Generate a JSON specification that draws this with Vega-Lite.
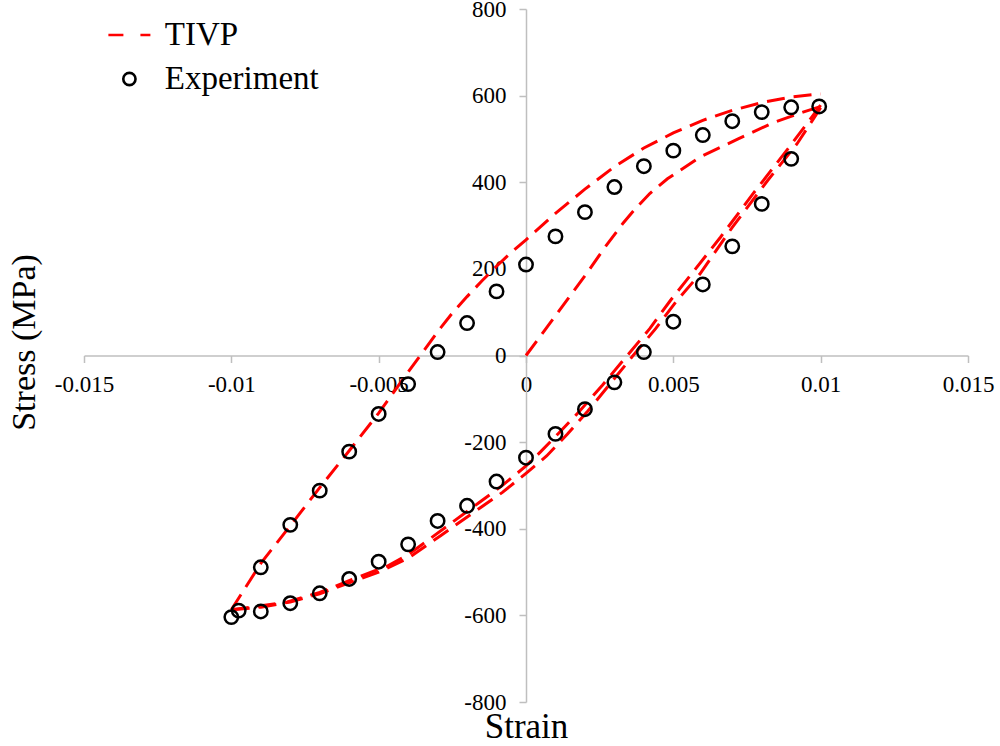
{
  "$schema": "https://vega.github.io/schema/vega-lite/v6.json",
  "width": 884,
  "height": 693,
  "autosize": "none",
  "padding": {"left": 84, "top": 9, "right": 32, "bottom": 44},
  "background": "white",
  "config": {"view": {"stroke": null}, "font": "Liberation Serif", "axis": {"labelFont": "Liberation Serif", "titleFont": "Liberation Serif"}, "legend": {"labelFont": "Liberation Serif"}},
  "encoding": {
    "x": {
      "field": "strain", "type": "quantitative",
      "scale": {"domain": [-0.015, 0.015], "nice": false, "zero": false},
      "axis": {
        "orient": "bottom", "offset": -346.5,
        "values": [-0.015, -0.01, -0.005, 0, 0.005, 0.01, 0.015],
        "labelExpr": "toString(datum.value)",
        "title": "Strain", "titleFont": "Liberation Serif", "titleFontSize": 35, "titleFontWeight": "normal", "titleColor": "black",
        "titleX": 442, "titleY": 382, "titleBaseline": "alphabetic", "titleAlign": "center",
        "labelFont": "Liberation Serif", "labelFontSize": 23, "labelColor": "black", "labelPadding": 11,
        "tickSize": 7, "tickColor": "#bfbfbf", "tickWidth": 1.5, "domainColor": "#bfbfbf", "domainWidth": 1.5,
        "grid": false, "labelFlush": false, "labelOverlap": false
      }
    },
    "y": {
      "field": "stress", "type": "quantitative",
      "scale": {"domain": [-800, 800], "nice": false, "zero": false},
      "axis": {
        "orient": "left", "offset": -442,
        "values": [-800, -600, -400, -200, 0, 200, 400, 600, 800],
        "labelExpr": "toString(datum.value)",
        "title": "Stress (MPa)", "titleFont": "Liberation Serif", "titleFontSize": 34, "titleFontWeight": "normal", "titleColor": "black",
        "titleX": -492, "titleY": 333, "titleAngle": -90, "titleBaseline": "alphabetic", "titleAlign": "center",
        "labelFont": "Liberation Serif", "labelFontSize": 23, "labelColor": "black", "labelPadding": 13,
        "tickSize": 7, "tickColor": "#bfbfbf", "tickWidth": 1.5, "domainColor": "#bfbfbf", "domainWidth": 1.5,
        "grid": false, "labelFlush": false, "labelOverlap": false
      }
    }
  },
  "layer": [
    {
      "data": {"values": [
        {"branch": "A", "order": 1, "strain": 0, "stress": 0},
        {"branch": "A", "order": 2, "strain": 0.001, "stress": 92},
        {"branch": "A", "order": 3, "strain": 0.002, "stress": 184},
        {"branch": "A", "order": 4, "strain": 0.0027, "stress": 252},
        {"branch": "A", "order": 5, "strain": 0.0033, "stress": 306},
        {"branch": "A", "order": 6, "strain": 0.0037, "stress": 338},
        {"branch": "A", "order": 7, "strain": 0.0042, "stress": 374},
        {"branch": "A", "order": 8, "strain": 0.0048, "stress": 408},
        {"branch": "A", "order": 9, "strain": 0.0059, "stress": 458},
        {"branch": "A", "order": 10, "strain": 0.0072, "stress": 500},
        {"branch": "A", "order": 11, "strain": 0.0084, "stress": 538},
        {"branch": "A", "order": 12, "strain": 0.0094, "stress": 562},
        {"branch": "A", "order": 13, "strain": 0.01, "stress": 575},

        {"branch": "B", "order": 1, "strain": 0.01, "stress": 578},
        {"branch": "B", "order": 2, "strain": 0.009, "stress": 487},
        {"branch": "B", "order": 3, "strain": 0.0077, "stress": 373},
        {"branch": "B", "order": 4, "strain": 0.0066, "stress": 273},
        {"branch": "B", "order": 5, "strain": 0.00545, "stress": 174},
        {"branch": "B", "order": 6, "strain": 0.0049, "stress": 127},
        {"branch": "B", "order": 7, "strain": 0.0042, "stress": 62},
        {"branch": "B", "order": 8, "strain": 0.0034, "stress": -3},
        {"branch": "B", "order": 9, "strain": 0.0026, "stress": -68},
        {"branch": "B", "order": 10, "strain": 0.0018, "stress": -130},
        {"branch": "B", "order": 11, "strain": 0.0011, "stress": -180},
        {"branch": "B", "order": 12, "strain": 0.0005, "stress": -222},
        {"branch": "B", "order": 13, "strain": 0, "stress": -255},
        {"branch": "B", "order": 14, "strain": -0.0008, "stress": -300},
        {"branch": "B", "order": 15, "strain": -0.0016, "stress": -340},
        {"branch": "B", "order": 16, "strain": -0.0027, "stress": -395},
        {"branch": "B", "order": 17, "strain": -0.004, "stress": -460},
        {"branch": "B", "order": 18, "strain": -0.0047, "stress": -486},
        {"branch": "B", "order": 19, "strain": -0.0059, "stress": -517},
        {"branch": "B", "order": 20, "strain": -0.007, "stress": -547},
        {"branch": "B", "order": 21, "strain": -0.0081, "stress": -569},
        {"branch": "B", "order": 22, "strain": -0.0093, "stress": -581},
        {"branch": "B", "order": 23, "strain": -0.01, "stress": -587},

        {"branch": "C", "order": 1, "strain": -0.01, "stress": -587},
        {"branch": "C", "order": 2, "strain": -0.009, "stress": -480},
        {"branch": "C", "order": 3, "strain": -0.008, "stress": -393},
        {"branch": "C", "order": 4, "strain": -0.007, "stress": -305},
        {"branch": "C", "order": 5, "strain": -0.006, "stress": -220},
        {"branch": "C", "order": 6, "strain": -0.005, "stress": -133},
        {"branch": "C", "order": 7, "strain": -0.004, "stress": -38},
        {"branch": "C", "order": 8, "strain": -0.0035, "stress": 8},
        {"branch": "C", "order": 9, "strain": -0.003, "stress": 55},
        {"branch": "C", "order": 10, "strain": -0.0025, "stress": 98},
        {"branch": "C", "order": 11, "strain": -0.002, "stress": 136},
        {"branch": "C", "order": 12, "strain": -0.0015, "stress": 172},
        {"branch": "C", "order": 13, "strain": -0.001, "stress": 206},
        {"branch": "C", "order": 14, "strain": -0.0005, "stress": 238},
        {"branch": "C", "order": 15, "strain": 0, "stress": 267},
        {"branch": "C", "order": 16, "strain": 0.001, "stress": 328},
        {"branch": "C", "order": 17, "strain": 0.002, "stress": 384},
        {"branch": "C", "order": 18, "strain": 0.003, "stress": 436},
        {"branch": "C", "order": 19, "strain": 0.004, "stress": 479},
        {"branch": "C", "order": 20, "strain": 0.005, "stress": 514},
        {"branch": "C", "order": 21, "strain": 0.006, "stress": 543},
        {"branch": "C", "order": 22, "strain": 0.007, "stress": 566},
        {"branch": "C", "order": 23, "strain": 0.008, "stress": 584},
        {"branch": "C", "order": 24, "strain": 0.009, "stress": 597},
        {"branch": "C", "order": 25, "strain": 0.01, "stress": 604},

        {"branch": "D", "order": 1, "strain": 0.01, "stress": 572},
        {"branch": "D", "order": 2, "strain": 0.0092, "stress": 489},
        {"branch": "D", "order": 3, "strain": 0.0082, "stress": 404},
        {"branch": "D", "order": 4, "strain": 0.007, "stress": 296},
        {"branch": "D", "order": 5, "strain": 0.0059, "stress": 188},
        {"branch": "D", "order": 6, "strain": 0.0051, "stress": 125},
        {"branch": "D", "order": 7, "strain": 0.0044, "stress": 62},
        {"branch": "D", "order": 8, "strain": 0.0036, "stress": -3},
        {"branch": "D", "order": 9, "strain": 0.0028, "stress": -70},
        {"branch": "D", "order": 10, "strain": 0.0021, "stress": -128},
        {"branch": "D", "order": 11, "strain": 0.0014, "stress": -182},
        {"branch": "D", "order": 12, "strain": 0.0007, "stress": -232},
        {"branch": "D", "order": 13, "strain": 0, "stress": -272},
        {"branch": "D", "order": 14, "strain": -0.0008, "stress": -316},
        {"branch": "D", "order": 15, "strain": -0.0016, "stress": -354},
        {"branch": "D", "order": 16, "strain": -0.0029, "stress": -416},
        {"branch": "D", "order": 17, "strain": -0.004, "stress": -468},
        {"branch": "D", "order": 18, "strain": -0.005, "stress": -500},
        {"branch": "D", "order": 19, "strain": -0.006, "stress": -525},
        {"branch": "D", "order": 20, "strain": -0.007, "stress": -550},
        {"branch": "D", "order": 21, "strain": -0.008, "stress": -569},
        {"branch": "D", "order": 22, "strain": -0.009, "stress": -581},
        {"branch": "D", "order": 23, "strain": -0.01, "stress": -587}
      ]},
      "mark": {"type": "line", "color": "#ff0000", "strokeWidth": 3, "strokeDash": [18, 9]},
      "encoding": {
        "detail": {"field": "branch", "type": "nominal"},
        "order": {"field": "order", "type": "quantitative"}
      }
    },
    {
      "data": {"values": [
        {"series": "Experiment", "strain": -0.01, "stress": -604},
        {"series": "Experiment", "strain": -0.00975, "stress": -589},
        {"series": "Experiment", "strain": -0.009, "stress": -489},
        {"series": "Experiment", "strain": -0.008, "stress": -391},
        {"series": "Experiment", "strain": -0.007, "stress": -312},
        {"series": "Experiment", "strain": -0.006, "stress": -222},
        {"series": "Experiment", "strain": -0.005, "stress": -135},
        {"series": "Experiment", "strain": -0.004, "stress": -66},
        {"series": "Experiment", "strain": -0.003, "stress": 8},
        {"series": "Experiment", "strain": -0.002, "stress": 75},
        {"series": "Experiment", "strain": -0.001, "stress": 148},
        {"series": "Experiment", "strain": 0, "stress": 210},
        {"series": "Experiment", "strain": 0.001, "stress": 275},
        {"series": "Experiment", "strain": 0.002, "stress": 331},
        {"series": "Experiment", "strain": 0.003, "stress": 389},
        {"series": "Experiment", "strain": 0.004, "stress": 437},
        {"series": "Experiment", "strain": 0.005, "stress": 473},
        {"series": "Experiment", "strain": 0.006, "stress": 509},
        {"series": "Experiment", "strain": 0.007, "stress": 541},
        {"series": "Experiment", "strain": 0.008, "stress": 562},
        {"series": "Experiment", "strain": 0.009, "stress": 573},
        {"series": "Experiment", "strain": 0.00995, "stress": 575},
        {"series": "Experiment", "strain": 0.009, "stress": 454},
        {"series": "Experiment", "strain": 0.008, "stress": 350},
        {"series": "Experiment", "strain": 0.007, "stress": 252},
        {"series": "Experiment", "strain": 0.006, "stress": 164},
        {"series": "Experiment", "strain": 0.005, "stress": 78},
        {"series": "Experiment", "strain": 0.004, "stress": 8},
        {"series": "Experiment", "strain": 0.003, "stress": -62},
        {"series": "Experiment", "strain": 0.002, "stress": -124},
        {"series": "Experiment", "strain": 0.001, "stress": -181},
        {"series": "Experiment", "strain": 0, "stress": -236},
        {"series": "Experiment", "strain": -0.001, "stress": -291},
        {"series": "Experiment", "strain": -0.002, "stress": -347},
        {"series": "Experiment", "strain": -0.003, "stress": -382},
        {"series": "Experiment", "strain": -0.004, "stress": -436},
        {"series": "Experiment", "strain": -0.005, "stress": -476},
        {"series": "Experiment", "strain": -0.006, "stress": -516},
        {"series": "Experiment", "strain": -0.007, "stress": -549},
        {"series": "Experiment", "strain": -0.008, "stress": -572},
        {"series": "Experiment", "strain": -0.009, "stress": -591}
      ]},
      "mark": {"type": "point", "filled": false, "size": 180, "strokeWidth": 2.5, "opacity": 1},
      "encoding": {
        "color": {
          "field": "series", "type": "nominal",
          "scale": {"domain": ["TIVP", "Experiment"], "range": ["#ff0000", "#000000"]},
          "legend": {
            "orient": "none", "legendX": 28.9, "legendY": 9.5, "title": null, "padding": 0,
            "labelFont": "Liberation Serif", "labelFontSize": 33, "labelColor": "black", "labelOffset": 18.9,
            "symbolSize": 150, "symbolStrokeWidth": 2.6, "rowPadding": 10
          }
        },
        "shape": {
          "field": "series", "type": "nominal",
          "scale": {"domain": ["TIVP", "Experiment"], "range": ["M-3.43,0H-0.98M1.8,0H3.43", "circle"]},
          "legend": {
            "orient": "none", "legendX": 28.9, "legendY": 9.5, "title": null, "padding": 0,
            "labelFont": "Liberation Serif", "labelFontSize": 33, "labelColor": "black", "labelOffset": 18.9,
            "symbolSize": 150, "symbolStrokeWidth": 2.6, "rowPadding": 10
          }
        }
      }
    }
  ]
}
